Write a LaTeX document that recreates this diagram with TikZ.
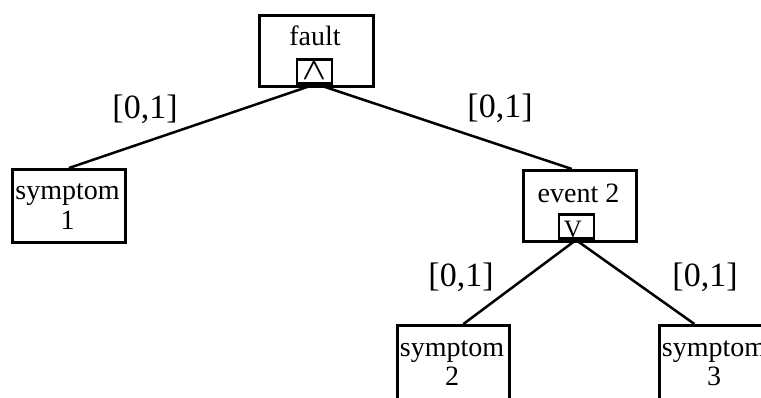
\documentclass[tikz,border=0pt]{standalone}
\usepackage{graphicx}
\usepackage{fontspec}
\setmainfont{Liberation Serif}
\begin{document}
\begin{tikzpicture}[x=1pt,y=-1pt,
  box/.style={draw=black, line width=2.8pt, rectangle, inner sep=0pt, anchor=north west},
  gatebox/.style={draw=black, line width=2.8pt, rectangle, inner sep=0pt, minimum width=35pt, minimum height=24pt, anchor=south},
  boxtxt/.style={font=\fontsize{28}{30}\selectfont, inner sep=0pt, anchor=base},
  lbl/.style={font=\fontsize{34}{36}\selectfont, inner sep=0pt},
  conn/.style={line width=2.5pt, draw=black}]
\clip (0,0) rectangle (761,397);
\useasboundingbox (0,0) rectangle (761,397);
% boxes
\node[box, minimum width=114pt, minimum height=71pt] (fault) at (258,14) {};
\node[box, minimum width=113pt, minimum height=73pt] (s1) at (11,168) {};
\node[box, minimum width=113pt, minimum height=71pt] (ev2) at (522,169) {};
\node[box, minimum width=112pt, minimum height=90pt] (s2) at (396,324) {};
\node[box, minimum width=112pt, minimum height=90pt] (s3) at (658,324) {};
% gates
\node[gatebox] (g1) at (314.5,84.5) {};
\node[gatebox] (g2) at (576.5,240) {};
\node[inner sep=0pt, font=\fontsize{24}{26}\selectfont\boldmath] (g1sym) at (314,71) {\scalebox{1.25}{$\wedge$}};
\node[boxtxt, font=\fontsize{25}{27}\selectfont] (g2sym) at (573,237) {V};
% texts
\node[boxtxt] (tfault) at (315,45) {fault};
\node[boxtxt] (ts1a) at (67.5,199) {symptom};
\node[boxtxt] (ts1b) at (67.5,229) {1};
\node[boxtxt] (tev2) at (578.5,202) {event 2};
\node[boxtxt] (ts2a) at (452,356) {symptom};
\node[boxtxt] (ts2b) at (452,385) {2};
\node[boxtxt] (ts3a) at (714,356) {symptom};
\node[boxtxt] (ts3b) at (714,385) {3};
% connectors
\coordinate (g1o) at (316,84);
\coordinate (g2o) at (576,240);
\draw[conn] (g1o) -- (s1.north);
\draw[conn] (g1o) -- ([xshift=-8pt]ev2.north);
\draw[conn] (g2o) -- ([xshift=10pt]s2.north);
\draw[conn] (g2o) -- ([xshift=-21pt]s3.north);
% labels
\node[lbl] (l1) at (145,109) {[0,1]};
\node[lbl] (l2) at (500,108) {[0,1]};
\node[lbl] (l3) at (461,277) {[0,1]};
\node[lbl] (l4) at (705,277) {[0,1]};
\end{tikzpicture}
\end{document}
